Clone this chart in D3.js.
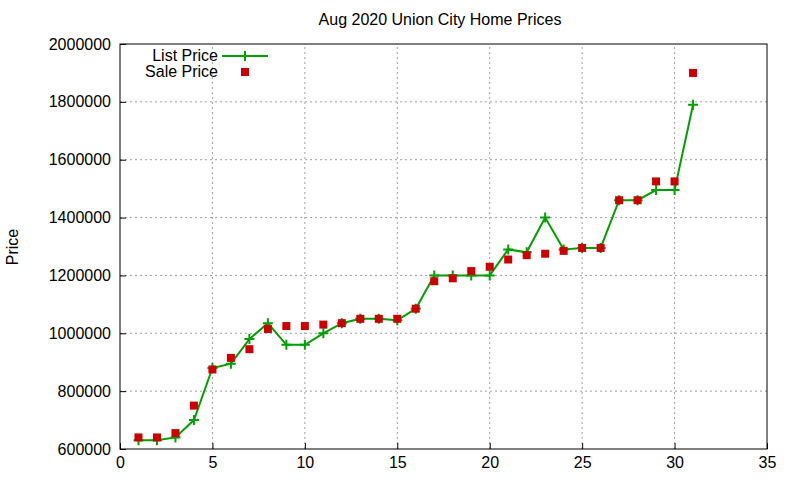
<!DOCTYPE html>
<html><head><meta charset="utf-8">
<script src="https://cdn.jsdelivr.net/npm/d3@7"></script>
<style>body{margin:0;background:#fff}text{font-family:"Liberation Sans",Arial,sans-serif}</style>
</head><body>
<script>
const days = d3.range(1, 32);
const listPrice = [630000,630000,640000,700000,880000,895000,980000,1035000,960000,960000,1000000,1035000,1050000,1050000,1045000,1085000,1200000,1200000,1200000,1200000,1290000,1280000,1400000,1290000,1295000,1295000,1460000,1460000,1495000,1495000,1790000];
const salePrice = [640000,640000,655000,750000,875000,915000,945000,1015000,1025000,1025000,1030000,1035000,1050000,1050000,1050000,1085000,1180000,1190000,1215000,1230000,1255000,1270000,1275000,1285000,1295000,1295000,1460000,1460000,1525000,1525000,1900000];
const xTicks = [0,5,10,15,20,25,30,35];
const yTicks = d3.range(600000, 2000001, 200000);

const W = 800, H = 480, m = {left:120, right:33, top:44, bottom:31};
const svg = d3.select("body").append("svg").attr("width", W).attr("height", H);
const x = d3.scaleLinear().domain([0,35]).range([m.left, W - m.right]);
const y = d3.scaleLinear().domain([600000,2000000]).range([H - m.bottom, m.top]);

// grid
svg.append("g").selectAll("line").data(xTicks.slice(1,-1)).join("line")
  .attr("x1", d => x(d)).attr("x2", d => x(d)).attr("y1", y(600000)).attr("y2", y(2000000))
  .attr("stroke", "#a0a0a0").attr("stroke-dasharray", "2,3");
svg.append("g").selectAll("line").data(yTicks.slice(1,-1)).join("line")
  .attr("y1", d => y(d)).attr("y2", d => y(d)).attr("x1", x(0)).attr("x2", x(35))
  .attr("stroke", "#a0a0a0").attr("stroke-dasharray", "2,3");

// axes
const ax = (g, a) => g.call(a).call(g => g.select(".domain").remove())
  .selectAll("text").attr("font-size", 16).attr("fill", "#000");
svg.append("g").attr("transform", `translate(0,${y(600000)})`)
  .call(g => ax(g, d3.axisBottom(x).tickValues(xTicks).tickSize(-6).tickPadding(8)));
svg.append("g").attr("transform", `translate(${x(0)},0)`)
  .call(g => ax(g, d3.axisLeft(y).tickValues(yTicks).tickSize(-6).tickPadding(9).tickFormat(d3.format("d"))));
svg.append("rect").attr("x", x(0)).attr("y", y(2000000)).attr("width", x(35)-x(0)).attr("height", y(600000)-y(2000000))
  .attr("fill", "none").attr("stroke", "#000");

// list price line
const g = svg.append("g");
g.append("path").datum(days.map((d,i) => [d, listPrice[i]]))
  .attr("d", d3.line().x(d => x(d[0])).y(d => y(d[1])))
  .attr("fill", "none").attr("stroke", "#00a000").attr("stroke-width", 2);
g.selectAll("path.plus").data(days).join("path").attr("class","plus")
  .attr("d", (d,i) => `M${x(d)-5},${y(listPrice[i])}h10M${x(d)},${y(listPrice[i])-5}v10`)
  .attr("stroke", "#00a000").attr("stroke-width", 2);
g.selectAll("rect").data(days).join("rect")
  .attr("x", (d,i) => x(d)-4).attr("y", (d,i) => y(salePrice[i])-4)
  .attr("width", 8).attr("height", 8).attr("fill", "#cc0000");

// legend
const lg = svg.append("g");
lg.append("text").attr("x", 218).attr("y", 61).attr("text-anchor","end").attr("font-size",16).text("List Price");
lg.append("path").attr("d", "M222,56h46M245,51v10").attr("stroke","#00a000").attr("stroke-width",2);
lg.append("text").attr("x", 218).attr("y", 77).attr("text-anchor","end").attr("font-size",16).text("Sale Price");
lg.append("rect").attr("x", 241).attr("y", 68).attr("width",8).attr("height",8).attr("fill","#cc0000");

svg.append("text").attr("x", 440).attr("y", 25).attr("text-anchor","middle").attr("font-size",16).text("Aug 2020 Union City Home Prices");
svg.append("text").attr("transform","translate(18,247) rotate(-90)").attr("text-anchor","middle").attr("font-size",16).text("Price");
</script>
</body></html>
